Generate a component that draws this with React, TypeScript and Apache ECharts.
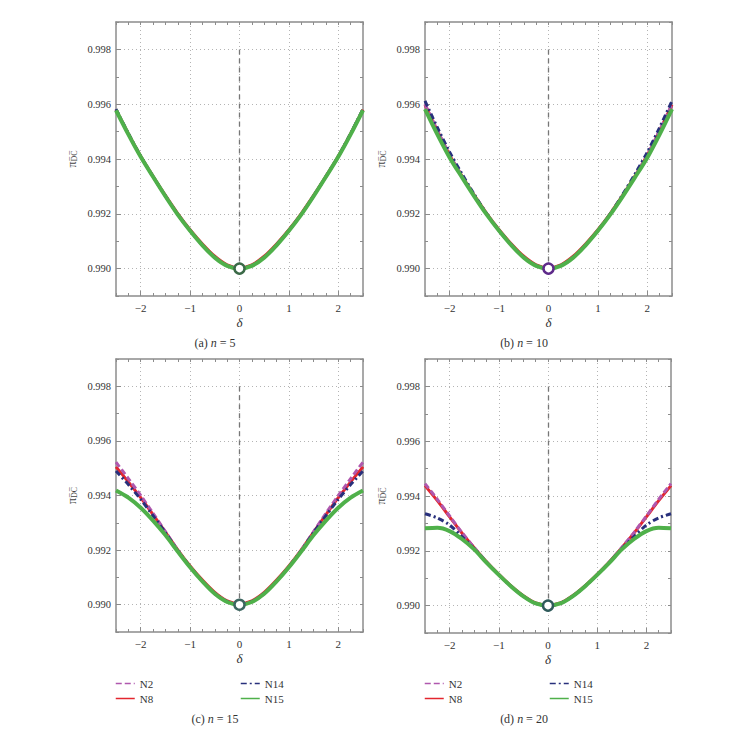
import React, { useEffect, useRef } from 'react';
import * as echarts from 'echarts';

// ---------------- data ----------------
const DELTA = [-2.5, -2.25, -2, -1.75, -1.5, -1.25, -1, -0.75, -0.5, -0.25, 0, 0.25, 0.5, 0.75, 1, 1.25, 1.5, 1.75, 2, 2.25, 2.5];
const X_TICKS = [-2, -1, 0, 1, 2];
const Y_TICKS = [0.990, 0.992, 0.994, 0.996, 0.998];
const SERIES_NAMES = ['N2', 'N8', 'N14', 'N15'];
const MIN_POINT = [0, 0.990];
const DASH_TOP = 0.998;
const CAPTIONS = [
  ['(a) ', 'n', ' = 5'],
  ['(b) ', 'n', ' = 10'],
  ['(c) ', 'n', ' = 15'],
  ['(d) ', 'n', ' = 20'],
];

// (a) n = 5
const A_N2 = [0.99581, 0.99492, 0.99409, 0.99336, 0.99265, 0.99198, 0.99139, 0.99086, 0.99041, 0.99011, 0.99001, 0.99011, 0.99041, 0.99086, 0.99139, 0.99198, 0.99265, 0.99336, 0.99409, 0.99492, 0.99581];
const A_N8 = [0.99580, 0.99492, 0.99410, 0.99337, 0.99267, 0.99201, 0.99142, 0.99090, 0.99045, 0.99014, 0.99003, 0.99014, 0.99045, 0.99090, 0.99142, 0.99201, 0.99267, 0.99337, 0.99410, 0.99492, 0.99580];
const A_N14 = [0.99582, 0.99493, 0.99410, 0.99336, 0.99265, 0.99198, 0.99139, 0.99086, 0.99041, 0.99011, 0.99001, 0.99011, 0.99041, 0.99086, 0.99139, 0.99198, 0.99265, 0.99336, 0.99410, 0.99493, 0.99582];
const A_N15 = [0.99578, 0.99490, 0.99408, 0.99335, 0.99264, 0.99197, 0.99138, 0.99085, 0.99040, 0.99010, 0.99000, 0.99010, 0.99040, 0.99085, 0.99138, 0.99197, 0.99264, 0.99335, 0.99408, 0.99490, 0.99578];

// (b) n = 10
const B_N2 = [0.99600, 0.99505, 0.99415, 0.99338, 0.99265, 0.99198, 0.99139, 0.99086, 0.99041, 0.99011, 0.99001, 0.99011, 0.99041, 0.99086, 0.99139, 0.99198, 0.99265, 0.99338, 0.99415, 0.99505, 0.99600];
const B_N8 = [0.99598, 0.99503, 0.99414, 0.99338, 0.99267, 0.99201, 0.99142, 0.99090, 0.99045, 0.99014, 0.99003, 0.99014, 0.99045, 0.99090, 0.99142, 0.99201, 0.99267, 0.99338, 0.99414, 0.99503, 0.99598];
const B_N14 = [0.99612, 0.99515, 0.99425, 0.99345, 0.99270, 0.99200, 0.99139, 0.99086, 0.99041, 0.99011, 0.99001, 0.99011, 0.99041, 0.99086, 0.99139, 0.99200, 0.99270, 0.99345, 0.99425, 0.99515, 0.99612];
const B_N15 = [0.99582, 0.99490, 0.99405, 0.99333, 0.99263, 0.99197, 0.99138, 0.99085, 0.99040, 0.99010, 0.99000, 0.99010, 0.99040, 0.99085, 0.99138, 0.99197, 0.99263, 0.99333, 0.99405, 0.99490, 0.99582];

// (c) n = 15
const C_N2 = [0.99522, 0.99462, 0.99400, 0.99335, 0.99268, 0.99200, 0.99138, 0.99085, 0.99041, 0.99011, 0.99001, 0.99011, 0.99041, 0.99085, 0.99138, 0.99200, 0.99268, 0.99335, 0.99400, 0.99462, 0.99522];
const C_N8 = [0.99505, 0.99450, 0.99392, 0.99330, 0.99266, 0.99201, 0.99142, 0.99090, 0.99045, 0.99014, 0.99004, 0.99014, 0.99045, 0.99090, 0.99142, 0.99201, 0.99266, 0.99330, 0.99392, 0.99450, 0.99505];
const C_N14 = [0.99490, 0.99440, 0.99386, 0.99326, 0.99264, 0.99198, 0.99139, 0.99086, 0.99041, 0.99011, 0.99001, 0.99011, 0.99041, 0.99086, 0.99139, 0.99198, 0.99264, 0.99326, 0.99386, 0.99440, 0.99490];
const C_N15 = [0.99418, 0.99392, 0.99355, 0.99308, 0.99255, 0.99195, 0.99137, 0.99085, 0.99040, 0.99010, 0.99000, 0.99010, 0.99040, 0.99085, 0.99137, 0.99195, 0.99255, 0.99308, 0.99355, 0.99392, 0.99418];

// (d) n = 20
const D_N2 = [0.99445, 0.99388, 0.99327, 0.99267, 0.99212, 0.99160, 0.99113, 0.99070, 0.99034, 0.99008, 0.99000, 0.99008, 0.99034, 0.99070, 0.99113, 0.99160, 0.99212, 0.99267, 0.99327, 0.99388, 0.99445];
const D_N8 = [0.99438, 0.99383, 0.99324, 0.99265, 0.99211, 0.99160, 0.99114, 0.99072, 0.99036, 0.99010, 0.99002, 0.99010, 0.99036, 0.99072, 0.99114, 0.99160, 0.99211, 0.99265, 0.99324, 0.99383, 0.99438];
const D_N14 = [0.99335, 0.99320, 0.99294, 0.99252, 0.99208, 0.99158, 0.99112, 0.99070, 0.99034, 0.99008, 0.99000, 0.99008, 0.99034, 0.99070, 0.99112, 0.99158, 0.99208, 0.99252, 0.99294, 0.99320, 0.99335];
const D_N15 = [0.99282, 0.99284, 0.99272, 0.99243, 0.99205, 0.99157, 0.99112, 0.99070, 0.99034, 0.99008, 0.99000, 0.99008, 0.99034, 0.99070, 0.99112, 0.99157, 0.99205, 0.99243, 0.99272, 0.99284, 0.99282];

const PANELS = [
  [A_N2, A_N8, A_N14, A_N15],
  [B_N2, B_N8, B_N14, B_N15],
  [C_N2, C_N8, C_N14, C_N15],
  [D_N2, D_N8, D_N14, D_N15],
];

// ---------------- layout / style ----------------
const FONT = '"Liberation Serif", "Times New Roman", serif';
const GRIDS = [
  { left: 116, top: 22, width: 247, height: 274 },
  { left: 425, top: 22, width: 247, height: 274 },
  { left: 116, top: 359, width: 247, height: 273 },
  { left: 425, top: 359, width: 246, height: 274 },
];
const CAPTION_POS = [
  [215, 343],
  [524, 343],
  [215, 719],
  [524, 719],
];
const LINE_STYLES: any[] = [
  { color: '#b058ae', width: 3, type: [6, 3] },
  { color: '#e3262e', width: 3, type: 'solid' },
  { color: '#28307c', width: 3, type: [6, 3, 2, 3] },
  { color: '#4fb04a', width: 4, type: 'solid' },
];
const Z_ORDER = [3, 2, 4, 5];
const MARK_COLORS = ['#3b6a48', '#5e2a8a', '#3d6660', '#2f5a5a'];
const FRAME = '#8c8c8c';

function buildOption() {
  const xAxis: any[] = [];
  const yAxis: any[] = [];
  const series: any[] = [];
  GRIDS.forEach((_, i) => {
    xAxis.push({
      type: 'value', gridIndex: i, position: 'bottom', min: -2.5, max: 2.5,
      axisLine: { onZero: false, lineStyle: { color: FRAME, width: 1.5 } },
      axisTick: { inside: true, length: 5, customValues: X_TICKS, lineStyle: { color: FRAME } },
      axisLabel: {
        customValues: X_TICKS, color: '#333', fontFamily: FONT, fontSize: 11, margin: 6,
        formatter: (v: number) => (v < 0 ? '\u2212' + Math.abs(v) : String(v)),
      },
      splitLine: { show: true, lineStyle: { color: '#b4b4b4', type: [1, 3], width: 1 } },
      name: 'δ', nameLocation: 'middle', nameGap: 20,
      nameTextStyle: { fontFamily: FONT, fontStyle: 'italic', fontSize: 13, color: '#333' },
    });
    xAxis.push({
      type: 'value', gridIndex: i, position: 'bottom', min: -2.5, max: 2.5, interval: 0.25,
      axisLine: { show: false, onZero: false },
      axisTick: { inside: true, length: 3, lineStyle: { color: FRAME } },
      axisLabel: { show: false }, splitLine: { show: false },
    });
    xAxis.push({
      type: 'value', gridIndex: i, position: 'top', min: -2.5, max: 2.5, interval: 0.25,
      axisLine: { show: true, onZero: false, lineStyle: { color: FRAME, width: 1.5 } },
      axisTick: { inside: true, length: 3, lineStyle: { color: FRAME } },
      axisLabel: { show: false }, splitLine: { show: false },
    });
    yAxis.push({
      type: 'value', gridIndex: i, position: 'left', min: 0.989, max: 0.999,
      axisLine: { onZero: false, lineStyle: { color: FRAME, width: 1.5 } },
      axisTick: { inside: true, length: 5, customValues: Y_TICKS, lineStyle: { color: FRAME } },
      axisLabel: {
        customValues: Y_TICKS, color: '#333', fontFamily: FONT, fontSize: 10.5, margin: 5,
        formatter: (v: number) => v.toFixed(3),
      },
      splitLine: { show: true, lineStyle: { color: '#b4b4b4', type: [1, 3], width: 1 } },
      name: '{p|π}{s|D\u0305C\u0305}', nameLocation: 'middle', nameGap: 38, nameRotate: 90,
      nameTextStyle: {
        color: '#444',
        rich: {
          p: { fontFamily: FONT, fontSize: 12, color: '#444' },
          s: { fontFamily: FONT, fontSize: 8, color: '#444', padding: [5, 0, 0, 0] },
        },
      },
    });
    yAxis.push({
      type: 'value', gridIndex: i, position: 'left', min: 0.989, max: 0.999, interval: 0.001,
      axisLine: { show: false, onZero: false },
      axisTick: { inside: true, length: 3, lineStyle: { color: FRAME } },
      axisLabel: { show: false }, splitLine: { show: false },
    });
    yAxis.push({
      type: 'value', gridIndex: i, position: 'right', min: 0.989, max: 0.999, interval: 0.001,
      axisLine: { show: true, onZero: false, lineStyle: { color: FRAME, width: 1.5 } },
      axisTick: { inside: true, length: 3, lineStyle: { color: FRAME } },
      axisLabel: { show: false }, splitLine: { show: false },
    });

    // dashed guide + open circle at the minimum
    series.push({
      type: 'scatter', xAxisIndex: 3 * i, yAxisIndex: 3 * i, silent: true,
      data: [MIN_POINT], symbol: 'circle', symbolSize: 10, z: 10,
      itemStyle: { color: '#fff', borderColor: MARK_COLORS[i], borderWidth: 2.5, opacity: 1 },
      markLine: {
        silent: true, symbol: 'none', label: { show: false }, z: 1,
        lineStyle: { color: '#777', type: [5, 4], width: 1.3 },
        data: [[{ coord: [0, DASH_TOP] }, { coord: MIN_POINT }]],
      },
    });
    PANELS[i].forEach((vals, k) => {
      series.push({
        type: 'line', name: SERIES_NAMES[k], xAxisIndex: 3 * i, yAxisIndex: 3 * i,
        data: DELTA.map((d, j) => [d, vals[j]]),
        smooth: 0.3, symbol: 'none', showSymbol: false, silent: true,
        lineStyle: LINE_STYLES[k], itemStyle: { color: LINE_STYLES[k].color }, z: Z_ORDER[k],
      });
    });
  });

  const legendBase = {
    orient: 'vertical', itemGap: 4, itemWidth: 19, itemHeight: 10, padding: 0, top: 678,
    selectedMode: false, lineStyle: { width: 1.5 }, itemStyle: { opacity: 0 },
    textStyle: { fontFamily: FONT, fontSize: 11, color: '#333' },
  };
  const legend = [
    { ...legendBase, left: 115, data: ['N2', 'N8'] },
    { ...legendBase, left: 240, data: ['N14', 'N15'] },
    { ...legendBase, left: 424, data: ['N2', 'N8'] },
    { ...legendBase, left: 549, data: ['N14', 'N15'] },
  ];

  const graphic = CAPTIONS.map((c, i) => ({
    type: 'text', x: CAPTION_POS[i][0], y: CAPTION_POS[i][1], silent: true,
    style: {
      text: `{r|${c[0]}}{i|${c[1]}}{r|${c[2]}}`,
      align: 'center', verticalAlign: 'middle',
      rich: {
        r: { fontFamily: FONT, fontSize: 12, fill: '#333' },
        i: { fontFamily: FONT, fontSize: 12, fontStyle: 'italic', fill: '#333' },
      },
    },
  }));

  return {
    animation: false,
    backgroundColor: '#fff',
    grid: GRIDS.map((g) => ({ ...g })),
    xAxis, yAxis, series, legend, graphic,
  };
}

export default function App() {
  const ref = useRef<HTMLDivElement>(null);
  useEffect(() => {
    if (!ref.current) return;
    const chart = echarts.init(ref.current, null, { renderer: 'svg' });
    chart.setOption(buildOption() as any);
    return () => chart.dispose();
  }, []);
  return (
    <div
      ref={ref}
      style={{ position: 'absolute', left: 0, top: 0, width: 748, height: 734, background: '#fff' }}
    />
  );
}
